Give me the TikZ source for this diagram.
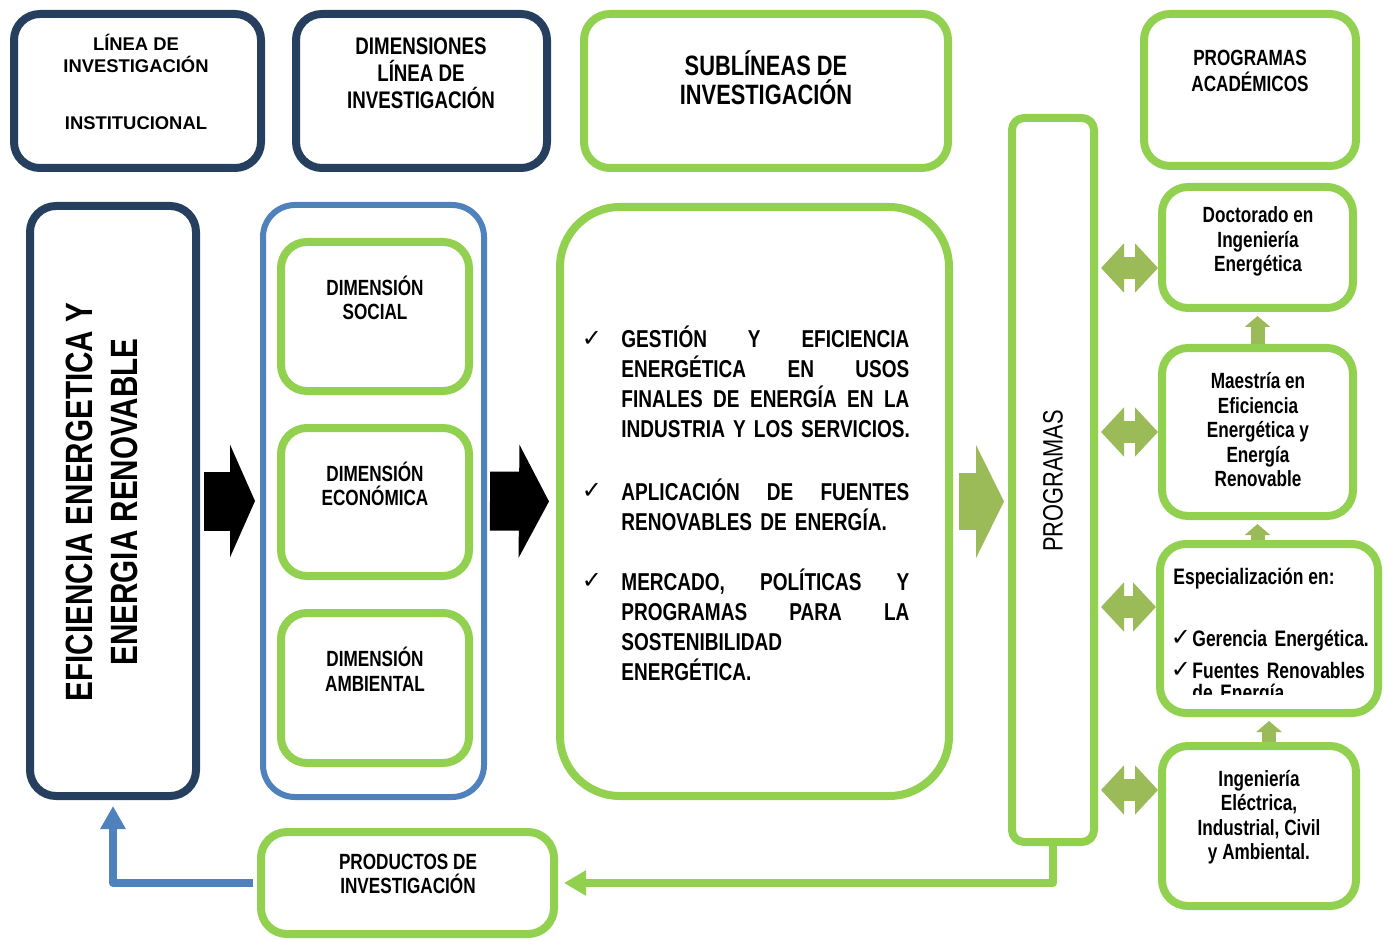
\documentclass[tikz,border=0pt]{standalone}
\usepackage{fontspec}
\setmainfont{Liberation Sans}
\newfontfamily\narrow[FakeStretch=0.78]{Liberation Sans}
\newfontfamily\symf{DejaVu Sans}
\usetikzlibrary{arrows.meta}
\definecolor{navy}{HTML}{263F5F}
\definecolor{azul}{HTML}{4F81BD}
\definecolor{verde}{HTML}{92D050}
\definecolor{oliva}{HTML}{9BBB59}
\newcommand{\fs}[2]{\fontsize{#1}{#2}\selectfont}
\begin{document}
\begin{tikzpicture}[x=0.5pt,y=-0.5pt,line join=round,
 caja/.style={draw,line width=4pt,fill=white,rounded corners=13pt,inner sep=0pt},
 cnavy/.style={caja,draw=navy},
 cverde/.style={caja,draw=verde},
 txt/.style={align=center,inner sep=0pt,font=\narrow\bfseries\fs{11}{12.25}},
 item/.style={text width=144pt,align=left,inner sep=0pt,font=\narrow\bfseries\fs{12.2}{15}},
 chk/.style={inner sep=0pt,font=\symf\fs{12}{12}},
 blk/.style={line width=29.5pt,-{Triangle[length=12.5pt,width=56pt]}},
 dbl/.style={oliva,line width=11pt,{Triangle[length=11.5pt,width=24pt]}-{Triangle[length=11.5pt,width=24pt]},shorten <=1.5pt},
 sube/.style={oliva,line width=7pt,-{Triangle[length=5.5pt,width=12.5pt]},shorten >=2pt}]
\useasboundingbox (0,0) rectangle (1387,941);
% cajas de arriba
\node[cnavy,minimum width=123.5pt,minimum height=77pt] (A) at (137.5,91) {};
\node[cnavy,minimum width=125.5pt,minimum height=77pt] (B) at (421.5,91) {};
\node[cverde,minimum width=182pt,minimum height=77pt] (C) at (766,91) {};
\node[cverde,minimum width=106pt,minimum height=76pt] (D) at (1250,90) {};
\node[txt,font=\bfseries\fs{9.2}{11}] (tA) at (136,53) {LÍNEA DE\\INVESTIGACIÓN};
\node[txt,font=\bfseries\fs{9.2}{11}] (tA2) at (136,123) {INSTITUCIONAL};
\node[txt,font=\narrow\bfseries\fs{12}{13.5}] (tB) at (421,73) {DIMENSIONES\\LÍNEA DE\\INVESTIGACIÓN};
\node[txt,font=\narrow\bfseries\fs{14}{14.5}] (tC) at (766,78) {SUBLÍNEAS DE\\INVESTIGACIÓN};
\node[txt,font=\narrow\bfseries\fs{11}{13}] (tD) at (1250,71) {PROGRAMAS\\ACADÉMICOS};
% linea institucional
\node[cnavy,minimum width=83pt,minimum height=295pt] (E) at (113,501) {};
\node[rotate=90,txt,font=\narrow\bfseries\fs{19}{22.5}] (tE) at (102,502) {EFICIENCIA ENERGETICA Y\\ENERGIA RENOVABLE};
% dimensiones
\node[caja,draw=azul,line width=3pt,rounded corners=16pt,minimum width=110.5pt,minimum height=296pt] (F) at (373.5,501) {};
\node[cverde,minimum width=94pt,minimum height=74.5pt] (S1) at (375,316.5) {};
\node[cverde,minimum width=94pt,minimum height=74pt] (S2) at (375,502) {};
\node[cverde,minimum width=94pt,minimum height=75pt] (S3) at (375,688) {};
\node[txt] (tS1) at (375,298) {DIMENSIÓN\\SOCIAL};
\node[txt] (tS2) at (375,484) {DIMENSIÓN\\ECONÓMICA};
\node[txt] (tS3) at (375,669) {DIMENSIÓN\\AMBIENTAL};
% sublineas
\node[cverde,rounded corners=30pt,minimum width=194.5pt,minimum height=294.5pt] (G) at (754.5,501.5) {};
\node[chk] (c1) at (592,339) {✓};
\node[chk] (c2) at (592,491) {✓};
\node[chk] (c3) at (592,581) {✓};
\node[item,anchor=base west] (s1) at (621,348) {GESTIÓN\hfill Y\hfill EFICIENCIA\\ENERGÉTICA\hfill EN\hfill USOS\\FINALES\hfill DE\hfill ENERGÍA\hfill EN\hfill LA\\\mbox{INDUSTRIA Y LOS SERVICIOS.}};
\node[item,anchor=base west] (s2) at (621,500) {APLICACIÓN\hfill DE\hfill FUENTES\\RENOVABLES DE ENERGÍA.};
\node[item,anchor=base west] (s3) at (621,590) {MERCADO,\hfill POLÍTICAS\hfill Y\\PROGRAMAS\hfill PARA\hfill LA\\SOSTENIBILIDAD\\ENERGÉTICA.};
% programas
\node[cverde,rounded corners=6pt,minimum width=41pt,minimum height=362pt] (P) at (1053,480) {};
\node[rotate=90,inner sep=0pt,font=\narrow\fs{14}{16}] (tP) at (1053,481) {PROGRAMAS};
\node[cverde,minimum width=95.5pt,minimum height=60.5pt] (R1) at (1257.5,247.5) {};
\node[cverde,minimum width=95.5pt,minimum height=84pt] (R2) at (1257.5,432) {};
\node[cverde,minimum width=109pt,minimum height=84.5pt] (R3) at (1269,628.5) {};
\node[cverde,minimum width=97pt,minimum height=80pt] (R4) at (1259,826) {};
\node[txt] (tR1) at (1258,241.5) {Doctorado en\\Ingeniería\\Energética};
\node[txt] (tR2) at (1258,430) {Maestría en\\Eficiencia\\Energética y\\Energía\\Renovable};
\node[txt] (tR4) at (1259,817) {Ingeniería\\Eléctrica,\\Industrial, Civil\\y Ambiental.};
\begin{scope}
\clip (1160,545) rectangle (1380,694);
\node[txt,anchor=base west,align=left,font=\narrow\bfseries\fs{11.2}{12}] (tR3) at (1173,584) {Especialización en:};
\node[chk] (c4) at (1181,638) {✓};
\node[chk] (c5) at (1181,670) {✓};
\node[txt,anchor=base west,align=left,text width=95pt,font=\narrow\bfseries\fs{11.2}{16}] (tR3b) at (1192,646) {Gerencia Energética.\\Fuentes Renovables\\[-5pt]de Energía.};
\end{scope}
\node[cverde,minimum width=146.5pt,minimum height=51pt] (Q) at (407.5,883) {};
\node[txt] (tQ) at (408,874) {PRODUCTOS DE\\INVESTIGACIÓN};
% flechas
\draw[blk,shorten <=2pt,shorten >=2.5pt] (E.east) -- (F.west);
\draw[blk,-{Triangle[length=15pt,width=56pt]},shorten <=1.5pt,shorten >=3.5pt] (F.east) -- (G.west);
\draw[blk,oliva,line width=28.5pt,-{Triangle[length=14pt,width=56pt]},shorten <=3pt,shorten >=2pt] (G.east) -- (G.east -| P.west);
\coordinate (d1) at (0,268);
\coordinate (d2) at (0,432);
\coordinate (d3) at (0,607);
\coordinate (d4) at (0,790);
\draw[dbl] (P.east |- d1) -- (R1.west |- d1);
\draw[dbl] (P.east |- d2) -- (R2.west |- d2);
\draw[dbl] (P.east |- d3) -- (R3.west |- d3);
\draw[dbl] (P.east |- d4) -- (R4.west |- d4);
\draw[sube] (R2.north) -- (R1.south);
\draw[sube] (R2.south |- R3.north) -- (R2.south);
\draw[sube] (R3.south |- R4.north) -- (R3.south);
\draw[verde,line width=4pt,-{Triangle[length=11pt,width=12pt]},shorten >=3pt] (P.south) |- (Q.east);
\draw[azul,line width=4pt,-{Triangle[length=11.5pt,width=12pt]},shorten <=2pt,shorten >=3pt] (Q.west) -| (E.south);
\end{tikzpicture}
\end{document}
